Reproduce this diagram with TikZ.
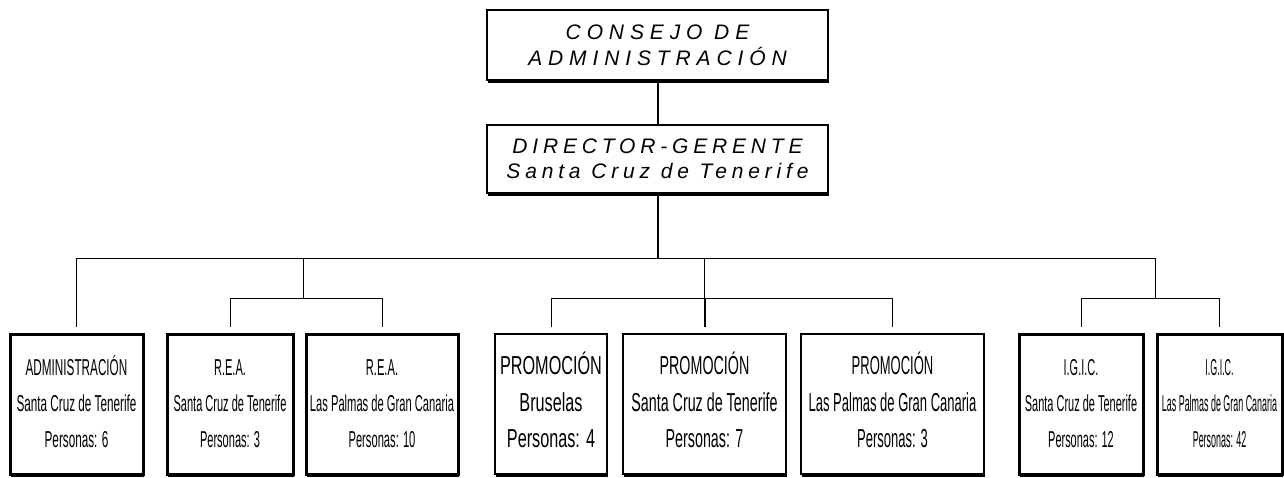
\documentclass[tikz,border=0pt]{standalone}
\usepackage{fontspec}
\setmainfont{Liberation Sans}
\newfontfamily\espaciada{Liberation Sans}[LetterSpace=28]
\newfontfamily\espaciadab{Liberation Sans}[LetterSpace=23]
\usetikzlibrary{shadows}

\tikzset{
  sombra/.style={drop shadow={shadow xshift=0.5pt, shadow yshift=-3pt, fill=black, opacity=1}},
  caja/.style={draw, fill=white, line width=3pt, inner sep=0pt, minimum height=140,
    sombra, font=\fontsize{23}{36}\selectfont},
  cajafina/.style={caja, line width=1.2pt, font=\fontsize{26}{36.5}\selectfont},
  cajaalta/.style={draw, fill=white, line width=2.5pt, inner sep=0pt, minimum width=341,
    sombra, align=center, font=\espaciada\itshape\fontsize{21}{26}\selectfont},
  enlace/.style={line width=1pt, shorten <=6pt},
}
\newcommand{\texto}[4]{\scalebox{#1}[1]{\begin{tabular}{@{}c@{}}#2\\#3\\#4\end{tabular}}}

\begin{document}
\begin{tikzpicture}[x=1pt, y=-1pt]
  \useasboundingbox (0,0) rectangle (1284,477);

  % Direccion
  \node[cajaalta, minimum height=70] (consejo) at (657.5,45) {CONSEJO DE\\ADMINISTRACIÓN};
  \node[cajaalta, minimum height=68, font=\espaciadab\itshape\fontsize{21}{25}\selectfont] (director) at (657.5,159) {DIRECTOR-GERENTE\\Santa Cruz de Tenerife};

  % Puntos de union
  \coordinate (bus) at (657.5,258);
  \coordinate (reabus) at (303,298);
  \coordinate (promobus) at (704.5,298);
  \coordinate (igicbus) at (1155,298);

  % Departamentos
  \node[caja, minimum width=133] (admin) at (76.5,404) {\texto{0.51}{ADMINISTRACIÓN}{Santa Cruz de Tenerife}{Personas: 6}};
  \node[caja, minimum width=126] (rea1) at (230,404) {\texto{0.48}{R.E.A.}{Santa Cruz de Tenerife}{Personas: 3}};
  \node[caja, minimum width=152] (rea2) at (382,404) {\texto{0.486}{R.E.A.}{Las Palmas de Gran Canaria}{Personas: 10}};
  \node[cajafina, minimum width=112] (promo1) at (551,404) {\texto{0.624}{PROMOCIÓN}{Bruselas}{Personas: 4}};
  \node[cajafina, minimum width=163] (promo2) at (704.5,404) {\texto{0.55}{PROMOCIÓN}{Santa Cruz de Tenerife}{Personas: 7}};
  \node[cajafina, minimum width=183] (promo3) at (892.5,404) {\texto{0.50}{PROMOCIÓN}{Las Palmas de Gran Canaria}{Personas: 3}};
  \node[caja, minimum width=124] (igic1) at (1081,404) {\texto{0.477}{I.G.I.C.}{Santa Cruz de Tenerife}{Personas: 12}};
  \node[caja, minimum width=125] (igic2) at (1219.5,404) {\texto{0.388}{I.G.I.C.}{Las Palmas de Gran Canaria}{Personas: 42}};

  % Conectores
  \draw[line width=2pt] (consejo) -- (director);
  \draw[line width=2pt] (director) -- (bus);
  \draw[enlace] (admin) |- (bus);
  \draw[enlace] (rea1) |- (reabus);
  \draw[enlace] (rea2) |- (reabus);
  \draw[line width=1pt] (reabus) |- (bus);
  \draw[enlace] (promo1) |- (promobus);
  \draw[enlace, line width=2pt] (promo2) -- (promobus);
  \draw[enlace] (promo3) |- (promobus);
  \draw[line width=1pt] (promobus) |- (bus);
  \draw[enlace] (igic1) |- (igicbus);
  \draw[enlace] (igic2) |- (igicbus);
  \draw[line width=1pt] (igicbus) |- (bus);
\end{tikzpicture}
\end{document}
